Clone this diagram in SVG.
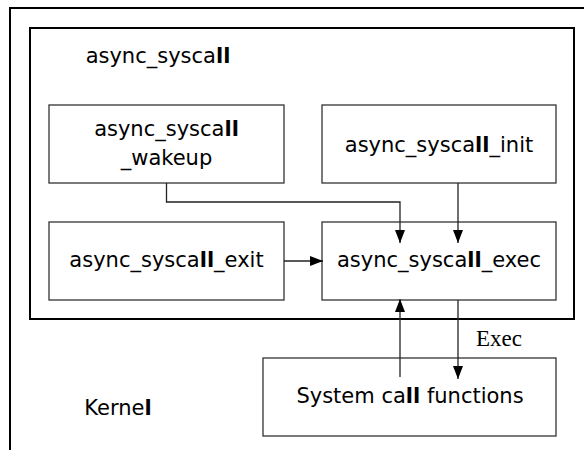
<svg xmlns="http://www.w3.org/2000/svg" width="584" height="450" viewBox="0 0 584 450">
  <style>
    .frame { fill: none; stroke: #000; stroke-width: 2; }
    .box { fill: #fff; stroke: #333; stroke-width: 1.3; }
    .lbl { font-family: "DejaVu Sans", "Liberation Sans", sans-serif; font-size: 21px; fill: #000; text-anchor: middle; }
    .lbl .b { font-weight: bold; }
    .edge { fill: none; stroke: #222; stroke-width: 1.3; }
    .note { font-family: "Liberation Serif", "Times New Roman", serif; font-size: 23px; fill: #000; }
  </style>
  <defs>
    <marker id="arrow" viewBox="0 0 13 10" refX="13" refY="5" markerWidth="13" markerHeight="10" markerUnits="userSpaceOnUse" orient="auto">
      <path d="M0,0 L13,5 L0,10 Z" fill="#000"/>
    </marker>
  </defs>

  <rect width="584" height="450" fill="#fff"/>

  <!-- Kernel region: only its left and top edges fall inside the canvas -->
  <g id="kernel">
    <path class="frame" d="M10,452 V8 H586"/>
    <text class="lbl" x="118" y="415">Kerne<tspan class="b">l</tspan></text>
  </g>

  <!-- async_syscall module -->
  <g id="async_syscall">
    <rect class="frame" x="30" y="28" width="544" height="291"/>
    <text class="lbl" x="158" y="63">async_sysca<tspan class="b">ll</tspan></text>
  </g>

  <g id="async_syscall_wakeup">
    <rect class="box" x="49" y="105" width="235" height="78"/>
    <text class="lbl" x="166.5" y="136">async_sysca<tspan class="b">ll</tspan></text>
    <text class="lbl" x="166.5" y="165">_wakeup</text>
  </g>

  <g id="async_syscall_init">
    <rect class="box" x="322" y="105" width="234" height="78"/>
    <text class="lbl" x="439" y="152">async_sysca<tspan class="b">ll</tspan>_init</text>
  </g>

  <g id="async_syscall_exit">
    <rect class="box" x="49" y="222" width="235" height="78"/>
    <text class="lbl" x="166.5" y="267">async_sysca<tspan class="b">ll</tspan>_exit</text>
  </g>

  <g id="async_syscall_exec">
    <rect class="box" x="322" y="222" width="234" height="78"/>
    <text class="lbl" x="439" y="267">async_sysca<tspan class="b">ll</tspan>_exec</text>
  </g>

  <g id="system_call_functions">
    <rect class="box" x="263" y="358" width="293" height="78"/>
    <text class="lbl" x="410" y="403">System ca<tspan class="b">ll</tspan> functions</text>
  </g>

  <!-- connectors -->
  <g id="edges">
    <path class="edge" d="M166.5,183 V202 H400 V243" marker-end="url(#arrow)"/>
    <path class="edge" d="M458,183 V243" marker-end="url(#arrow)"/>
    <path class="edge" d="M284,261 H323" marker-end="url(#arrow)"/>
    <path class="edge" d="M400,377 V299" marker-end="url(#arrow)"/>
    <path class="edge" d="M458,300 V379" marker-end="url(#arrow)"/>
    <text class="note" x="476" y="346">Exec</text>
  </g>
</svg>
